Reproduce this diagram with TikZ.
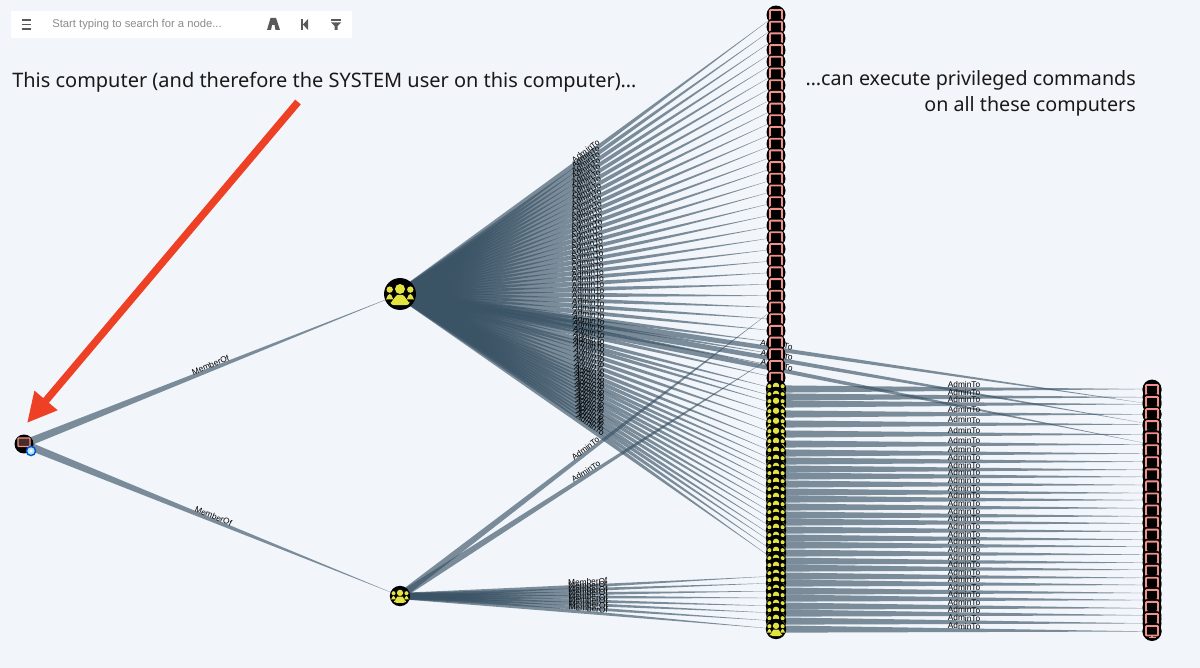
\documentclass[tikz,border=0pt]{standalone}
\usepackage{fontspec}
\setmainfont{Noto Sans}
\newfontfamily\labelfont{Liberation Sans}
\usetikzlibrary{calc,arrows.meta}
\pgfdeclarelayer{edgelayer}
\pgfdeclarelayer{labellayer}
\pgfsetlayers{edgelayer,labellayer,main}
\definecolor{canvas}{HTML}{F2F5FA}
\definecolor{edgeblue}{HTML}{3A5365}
\definecolor{salmon}{HTML}{F0928A}
\definecolor{groupyellow}{HTML}{E2E340}
\definecolor{alertred}{HTML}{EE4024}
\definecolor{toolgrey}{HTML}{5A5A5A}
\tikzset{
  hostnode/.style={circle, fill=black, inner sep=0pt, minimum size=13.5pt},
  groupnode/.style={circle, fill=black, inner sep=0pt, minimum size=#1},
  edgefill/.style={fill=edgeblue, fill opacity=0.65},
  edgelabel/.style={font=\labelfont\fontsize{5.9}{6}\selectfont, sloped, above, inner sep=0.6pt, text=black},
  headline/.style={font=\fontsize{14.2}{18}\selectfont, text=black!90, inner sep=0pt},
  hosticon/.pic={
    \draw[salmon, line width=1.3pt, rounded corners=0.5pt] (-6,-5) rectangle (6,4.5);
    \draw[salmon, line width=1.3pt] (0,4.5) -- (0,6.5) (-3.5,6.5) -- (3.5,6.5);
  },
  groupicon/.pic={
    \fill[groupyellow] (0,-5) circle (5);
    \fill[groupyellow] (-10.3,-4.4) circle (3.2);
    \fill[groupyellow] (10.3,-4.4) circle (3.2);
    \fill[groupyellow] (-14.2,5.5) to[out=-90,in=180] (-10.3,0) to[out=0,in=-90] (-6.5,5.5) -- cycle;
    \fill[groupyellow] (14.2,5.5) to[out=-90,in=0] (10.3,0) to[out=180,in=-90] (6.5,5.5) -- cycle;
    \fill[groupyellow, rounded corners=2pt] (-9.5,11) -- (-9.5,6) to[out=-90,in=180] (0,1) to[out=0,in=-90] (9.5,6) -- (9.5,11) -- cycle;
  },
}
% thick at the first node, running out to nothing at the second
\newcommand{\linkedge}[4]{
  \begin{pgfonlayer}{edgelayer}
    \fill[edgefill] ($(#1)!#3!90:(#2)$) -- (#2.center) -- ($(#1)!#3!-90:(#2)$) -- cycle;
  \end{pgfonlayer}
  \begin{pgfonlayer}{labellayer}
    \path (#1.center) -- node[edgelabel] {#4} (#2.center);
  \end{pgfonlayer}
}
\begin{document}
\begin{tikzpicture}[x=0.025cm, y=-0.025cm]
  \useasboundingbox (0,0) rectangle (1200,668);
  \begin{pgfonlayer}{edgelayer}
    \fill[canvas] (0,0) rectangle (1200,668);
  \end{pgfonlayer}

  % toolbar
  \fill[white] (11,11) rectangle (352,38);
  \foreach \rowy in {20,24.5,29} {
    \draw[toolgrey, line width=1.3pt] (21.5,\rowy) -- (31,\rowy);
  }
  \node[font=\labelfont\fontsize{8}{10}\selectfont, text=black!45, anchor=west, inner sep=0pt] (searchbox) at (52,25) {Start typing to search for a node...};
  \fill[toolgrey] (267,30) -- (270.5,18) -- (276,18) -- (280,30) -- (275.5,30) -- (274.5,25) -- (272,25) -- (271,30) -- cycle;
  \fill[toolgrey] (301,19) rectangle (303,30);
  \fill[toolgrey] (308,19) -- (303,24.5) -- (308,30) -- cycle;
  \fill[toolgrey] (331,19) rectangle (341,20.8);
  \fill[toolgrey] (331,22.5) -- (341,22.5) -- (337.5,26) -- (337.5,30) -- (334.5,30) -- (334.5,26) -- cycle;

  % headings
  \node[headline, anchor=base west] (headleft) at (12,88) {This computer (and therefore the SYSTEM user on this computer)…};
  \node[headline, font=\fontsize{14}{18}\selectfont, anchor=base east] (headright) at (1136,86) {…can execute privileged commands};
  \node[headline, font=\fontsize{14}{18}\selectfont, anchor=base east] (headrighttwo) at (1136,112) {on all these computers};

  % columns, each icon covers the one above it
  \foreach \i in {0,...,31} {
    \node[hostnode] (top\i) at (776,15+\i*11.7) {};
    \pic at (top\i) {hosticon};
  }
  \foreach \rowy [count=\i] in {389,397,404,414,424,434,444,453,461,469,476,484,492,499,507,515,522,530,538,545,553,561,568,576,583,591,598,606,613,621,629} {
    \node[groupnode=14.5pt] (mid\i) at (776,\rowy) {};
    \pic[scale=0.64] at (mid\i) {groupicon};
    \node[hostnode] (end\i) at (1152,\rowy+\i*0.08) {};
  }
  \foreach \i in {0,...,20} {
    \node[hostnode] (endicon\i) at (1152,390+\i*12.05) {};
    \pic at (endicon\i) {hosticon};
  }

  % left hand nodes
  \node[groupnode=22.7pt] (groupa) at (400,294) {};
  \pic at (groupa) {groupicon};
  \node[groupnode=14.5pt] (groupb) at (400,596) {};
  \pic[scale=0.63] at (groupb) {groupicon};
  \node[hostnode] (source) at (24,444) {};
  \draw[salmon, line width=0.9pt, fill=salmon!30!black, rounded corners=0.5pt] (18,438) rectangle (30,446.5);
  \node[circle, fill=cyan!30!white, draw=blue!60!cyan!80!black, line width=1pt, inner sep=0pt, minimum size=6.5pt] (badge) at (31,451) {};
  \fill[white] (badge) circle (1.6);

  % edges
  \linkedge{source}{groupa}{2.8pt}{MemberOf}
  \linkedge{source}{groupb}{2.8pt}{MemberOf}
  \foreach \i in {0,...,31} {
    \linkedge{groupa}{top\i}{3pt}{AdminTo}
  }
  \foreach \i in {1,...,22} {
    \linkedge{groupa}{mid\i}{3pt}{AdminTo}
  }
  \foreach \i in {3,5,7} {
    \linkedge{groupa}{end\i}{3pt}{AdminTo}
  }
  \linkedge{groupb}{top25}{2.6pt}{AdminTo}
  \linkedge{groupb}{top29}{2.6pt}{AdminTo}
  \foreach \i in {24,...,31} {
    \linkedge{groupb}{mid\i}{2.2pt}{MemberOf}
  }
  \foreach \i in {1,...,31} {
    \linkedge{mid\i}{end\i}{2.6pt}{AdminTo}
  }

  % callout arrow
  \coordinate (arrowtail) at (298,102);
  \coordinate (arrowhead) at (27,423);
  \draw[alertred, line width=5.2pt, -{Triangle[length=21pt,width=20pt]}] (arrowtail) -- (arrowhead);
\end{tikzpicture}
\end{document}
